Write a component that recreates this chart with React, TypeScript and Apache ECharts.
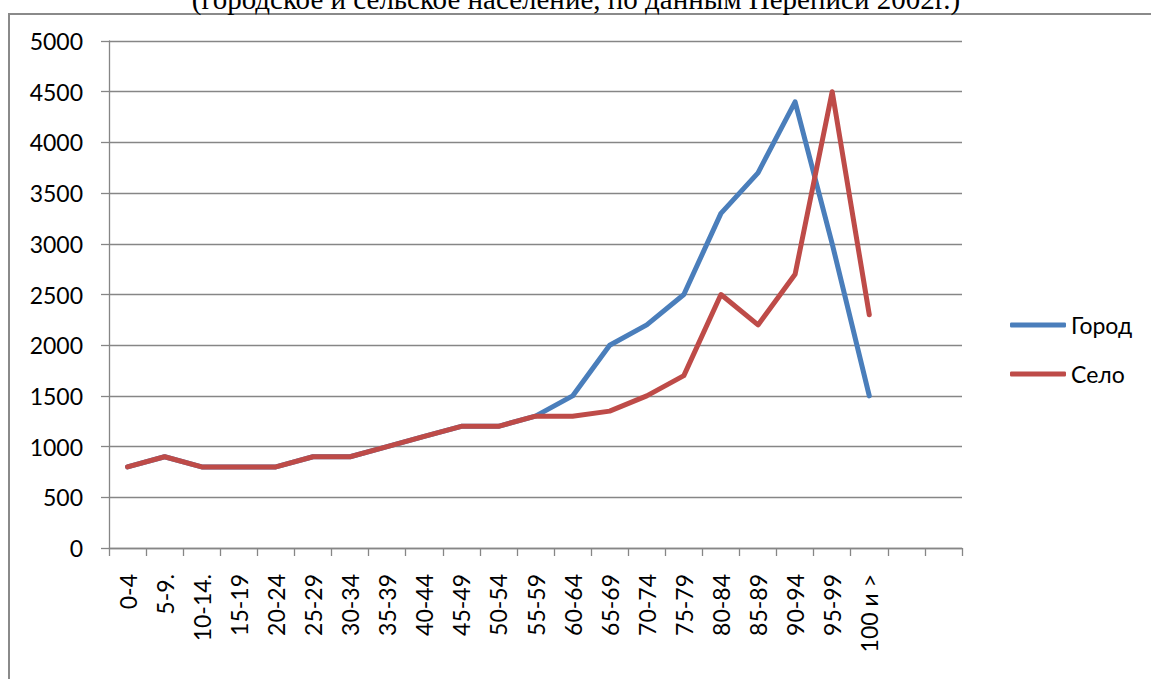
import React, { useEffect, useRef } from "react";
import * as echarts from "echarts";

const categories: string[] = [
  "0-4", "5-9.", "10-14.", "15-19", "20-24", "25-29", "30-34", "35-39", "40-44", "45-49",
  "50-54", "55-59", "60-64", "65-69", "70-74", "75-79", "80-84", "85-89", "90-94", "95-99",
  "100 и >", "", "",
];
const cityValues: number[] = [
  800, 900, 800, 800, 800, 900, 900, 1000, 1100, 1200,
  1200, 1300, 1500, 2000, 2200, 2500, 3300, 3700, 4400, 3000, 1500,
];
const villageValues: number[] = [
  800, 900, 800, 800, 800, 900, 900, 1000, 1100, 1200,
  1200, 1300, 1300, 1350, 1500, 1700, 2500, 2200, 2700, 4500, 2300,
];
const seriesNames: string[] = ["Город", "Село"];
const titleText = "(городское и сельское население, по данным Переписи 2002г.)";

const FONT = "Lato, 'Open Sans', sans-serif";
const GRID = "#868686";

export default function App() {
  const ref = useRef<HTMLDivElement>(null);
  useEffect(() => {
    if (!ref.current) return;
    const chart = echarts.init(ref.current, undefined, { renderer: "svg" });
    chart.setOption({
      animation: false,
      backgroundColor: "transparent",
      grid: { left: 109, right: 189, top: 41, bottom: 131, containLabel: false },
      legend: {
        orient: "vertical",
        left: 1010,
        top: 313,
        padding: 0,
        itemWidth: 56,
        itemHeight: 5,
        itemGap: 25,
        icon: "roundRect",
        textStyle: { fontFamily: FONT, fontSize: 23, color: "#000", lineHeight: 24 },
        data: seriesNames,
      },
      graphic: [
        {
          type: "text",
          x: 576,
          y: -1,
          style: {
            text: titleText,
            font: "29px 'Liberation Serif', 'Times New Roman', serif",
            fill: "#000",
            align: "center",
            verticalAlign: "middle",
          },
        },
      ],
      xAxis: {
        type: "category",
        data: categories,
        boundaryGap: true,
        axisLine: { show: true, lineStyle: { color: GRID, width: 1.3 } },
        axisTick: { show: true, length: 8, interval: 0, lineStyle: { color: GRID, width: 1.3 } },
        axisLabel: {
          interval: 0,
          rotate: 90,
          margin: 26,
          fontFamily: FONT,
          fontSize: 23,
          color: "#000",
        },
        splitLine: { show: false },
      },
      yAxis: {
        type: "value",
        min: 0,
        max: 5000,
        interval: 500,
        axisLine: { show: true, lineStyle: { color: GRID, width: 1.3 } },
        axisTick: { show: true, length: 8, lineStyle: { color: GRID, width: 1.3 } },
        axisLabel: {
          margin: 26,
          fontFamily: FONT,
          fontSize: 23,
          color: "#000",
          formatter: (v: number) => String(v),
        },
        splitLine: { show: true, lineStyle: { color: GRID, width: 1.3 } },
      },
      series: [
        {
          name: seriesNames[0],
          type: "line",
          data: cityValues,
          symbol: "none",
          color: "#4A7EBB",
          lineStyle: { width: 5, color: "#4A7EBB", cap: "round", join: "round" },
        },
        {
          name: seriesNames[1],
          type: "line",
          data: villageValues,
          symbol: "none",
          color: "#BE4B48",
          lineStyle: { width: 5, color: "#BE4B48", cap: "round", join: "round" },
        },
      ],
    });
    return () => chart.dispose();
  }, []);

  return (
    <div style={{ position: "absolute", left: 0, top: 0, width: 1151, height: 679, background: "#fff", overflow: "hidden" }}>
      <div
        style={{
          position: "absolute",
          left: 8,
          top: 13,
          width: 1151 - 8,
          height: 679 - 13,
          borderTop: "2px solid #8a8a8a",
          borderLeft: "2px solid #8a8a8a",
          boxSizing: "border-box",
        }}
      />
      <div ref={ref} style={{ position: "absolute", left: 0, top: 0, width: 1151, height: 679 }} />
    </div>
  );
}
